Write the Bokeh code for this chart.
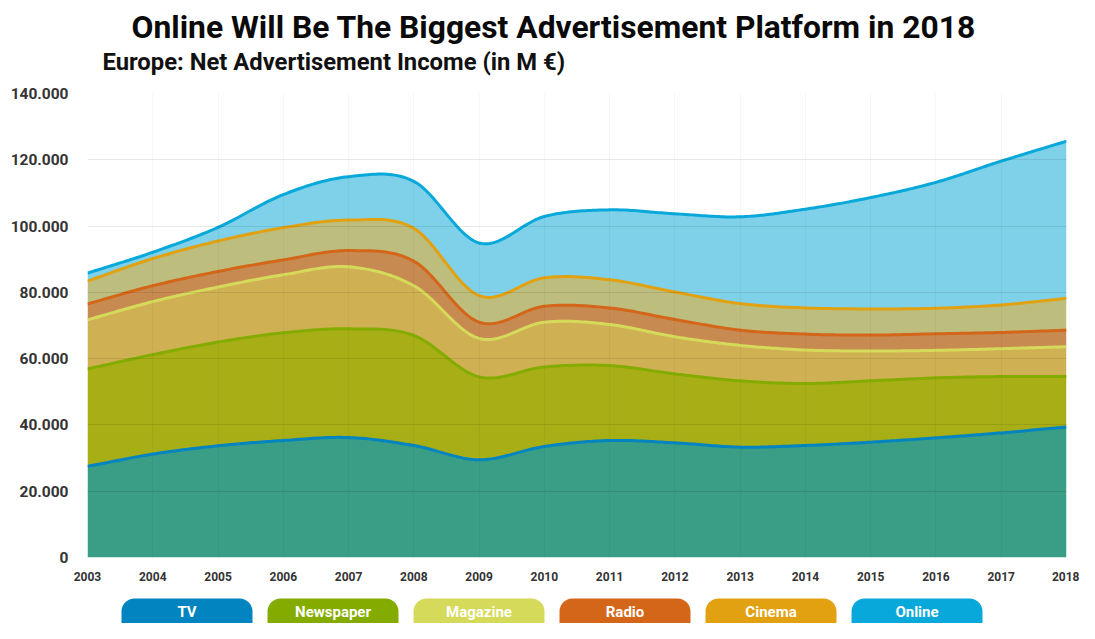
import numpy as np
from bokeh.plotting import figure
from bokeh.models import Range1d, FixedTicker, Title
from bokeh.layouts import column
from bokeh.embed import file_html
from bokeh.resources import INLINE
from bokeh.core.properties import value

# ---------------- data (M EUR) ----------------
years = list(range(2003, 2019))
series_names = ["TV", "Newspaper", "Magazine", "Radio", "Cinema", "Online"]
tv = [27500, 31200, 33700, 35300, 36200, 33800, 29500, 33500, 35300, 34600, 33300, 33800, 34800, 36100, 37600, 39400]
newspaper = [29400, 30000, 31300, 32500, 32800, 33200, 25000, 24000, 22600, 20800, 20000, 18700, 18500, 18100, 17000, 15200]
magazine = [14800, 16000, 16600, 17500, 18700, 15000, 11600, 13500, 12400, 11200, 10700, 10100, 9000, 8300, 8400, 9000]
radio = [4800, 4800, 4700, 4500, 4900, 7400, 4900, 4800, 5000, 5200, 4600, 4800, 4800, 5000, 4900, 5000]
cinema = [6900, 8200, 9200, 9700, 9200, 9900, 8000, 8600, 8500, 8300, 8000, 7900, 7900, 7700, 8300, 9600]
online = [2400, 1900, 4100, 10000, 13100, 14200, 15900, 18500, 21100, 23600, 26200, 29800, 33600, 38000, 43400, 47400]
y_ticks = [0, 20000, 40000, 60000, 80000, 100000, 120000, 140000]
y_tick_labels = ["0", "20.000", "40.000", "60.000", "80.000", "100.000", "120.000", "140.000"]

line_colors = ["#0284C0", "#84AC00", "#D6DA5A", "#D4661A", "#E2A111", "#08A9DA"]
fill_colors = ["#3A9E87", "#A7AE16", "#CFB052", "#C78A50", "#BDBD7E", "#7FD1E9"]
legend_colors = ["#0284C0", "#84AC00", "#D6DA5A", "#D4661A", "#E2A111", "#08A9DA"]

title_text = "Online Will Be The Biggest Advertisement Platform in 2018"
subtitle_text = "Europe: Net Advertisement Income (in M \u20ac)"


def smooth(xs, ys, n=24):
    """Cubic Hermite (Catmull-Rom) rendering of the curve through the data points."""
    xs = np.asarray(xs, float)
    ys = np.asarray(ys, float)
    m = np.empty_like(ys)
    m[1:-1] = (ys[2:] - ys[:-2]) / 2.0
    m[0] = (ys[1] - ys[0])
    m[-1] = (ys[-1] - ys[-2])
    ox, oy = [], []
    for i in range(len(xs) - 1):
        t = np.linspace(0, 1, n, endpoint=(i == len(xs) - 2))
        h00 = 2 * t**3 - 3 * t**2 + 1
        h10 = t**3 - 2 * t**2 + t
        h01 = -2 * t**3 + 3 * t**2
        h11 = t**3 - t**2
        dx = xs[i + 1] - xs[i]
        oy.append(h00 * ys[i] + h10 * m[i] + h01 * ys[i + 1] + h11 * m[i + 1])
        ox.append(xs[i] + t * dx)
    return np.concatenate(ox), np.concatenate(oy)


data = np.array([tv, newspaper, magazine, radio, cinema, online], dtype=float)
cum = np.cumsum(data, axis=0)

W = 1079
BL, BR = 87, 13
p = figure(width=W, height=590, x_range=Range1d(2003, 2018), y_range=Range1d(0, 140000),
           toolbar_location=None, output_backend="svg",
           min_border_left=BL, min_border_right=BR, min_border_top=93, min_border_bottom=33)
p.outline_line_color = None
p.background_fill_color = "white"
p.border_fill_color = "white"

# titles: p.title outermost; "above" items: first added sits next to the frame
p.title.text = title_text
p.title.text_font = "Roboto"
p.title.text_font_size = "31.8px"
p.title.text_font_style = "bold"
p.title.text_color = "#0a0a0a"
p.title.align = "left"
p.title.offset = 44
p.title.standoff = 0
p.add_layout(Title(text=" ", text_font_size="2px", standoff=13), "above")
p.add_layout(Title(text=subtitle_text, text_font="Roboto", text_font_size="23.8px",
                   text_font_style="bold", text_color="#111111", align="left", offset=15,
                   standoff=1), "above")

# stacked smooth areas
sm = []
for k in range(len(series_names)):
    sm.append(smooth(years, cum[k]))
for k in range(len(series_names)):
    xs, ys = sm[k]
    lo = np.zeros_like(ys) if k == 0 else sm[k - 1][1]
    p.varea(x=xs, y1=lo, y2=ys, fill_color=fill_colors[k], fill_alpha=1.0)
for k in range(len(series_names)):
    xs, ys = sm[k]
    p.line(xs, ys, line_color=line_colors[k], line_width=3, line_join="round")

# axes
p.xaxis.ticker = FixedTicker(ticks=years)
p.xaxis.major_label_overrides = {y: str(y) for y in years}
p.yaxis.ticker = FixedTicker(ticks=y_ticks)
p.yaxis.major_label_overrides = {t: l for t, l in zip(y_ticks, y_tick_labels)}
for ax in (p.xaxis, p.yaxis):
    ax.axis_line_color = None
    ax.major_tick_line_color = None
    ax.minor_tick_line_color = None
    ax.major_tick_out = 0
    ax.major_tick_in = 0
    ax.minor_tick_out = 0
    ax.major_label_text_font = "Roboto"
    ax.major_label_text_font_style = "bold"
    ax.major_label_text_color = "#333333"
p.yaxis.major_label_text_font_size = "15.5px"
p.xaxis.major_label_text_font_size = "12px"
p.yaxis.major_label_standoff = 19
p.xaxis.major_label_standoff = 14

p.ygrid.grid_line_color = "#000000"
p.ygrid.grid_line_alpha = 0.09
p.ygrid.level = "overlay"
p.xgrid.grid_line_color = "#000000"
p.xgrid.grid_line_alpha = 0.035
p.xgrid.level = "overlay"

# legend (pill buttons); its frame is aligned with the main frame, x in figure pixels
lg = figure(width=W, height=33, x_range=Range1d(BL, W - BR), y_range=Range1d(0, 33),
            toolbar_location=None, output_backend="svg", min_border=0,
            x_axis_location=None, y_axis_location=None)
lg.outline_line_color = None
lg.grid.visible = False
n = len(series_names)
lefts = [121 + i * 146 for i in range(n)]
rights = [l + 131 for l in lefts]
centers = [l + 65.5 for l in lefts]
lg.quad(left=lefts, right=rights, bottom=[-16] * n, top=[25] * n,
        fill_color=legend_colors, line_color=None, border_radius=13)
lg.text(x=centers, y=[12] * n, text=series_names, text_align="center", text_baseline="middle",
        text_color="white", text_font=value("Roboto"), text_font_style="bold",
        text_font_size="15px")

layout = column(p, lg, spacing=0)
open("out.html", "w").write(file_html(layout, INLINE))
